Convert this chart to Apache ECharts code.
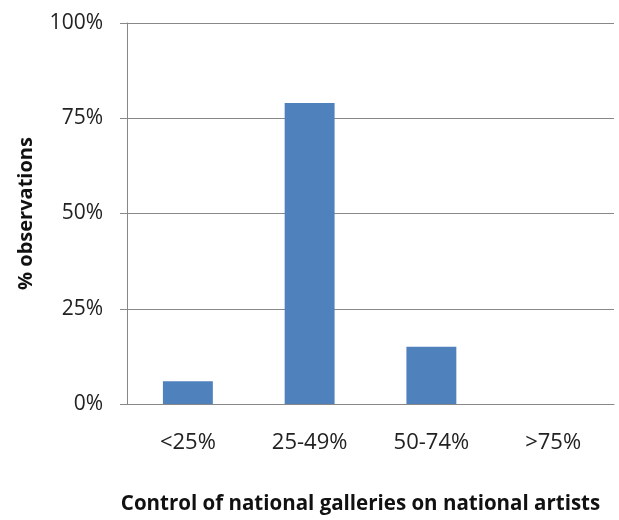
<!DOCTYPE html>
<html>
<head>
<meta charset="utf-8">
<script src="https://cdn.jsdelivr.net/npm/echarts@6/dist/echarts.min.js"></script>
<style>
  html, body { margin: 0; padding: 0; background: #fff; }
  #chart { width: 619px; height: 520px; }
</style>
</head>
<body>
<div id="chart"></div>
<script>
// categories and values
const categories = ['<25%', '25-49%', '50-74%', '>75%']
const observations = [6, 79, 15, 0]
const yTicks = [0, 25, 50, 75, 100]

const chart = echarts.init(document.getElementById('chart'))
chart.setOption({
  animation: false,
  textStyle: { fontFamily: 'Open Sans' },
  grid: { left: 127, right: 5, top: 23, bottom: 115 },
  xAxis: {
    type: 'category',
    data: categories,
    name: 'Control of national galleries on national artists',
    nameLocation: 'middle',
    nameGap: 90,
    nameTextStyle: { fontSize: 20.5, fontWeight: 'bold', color: '#111', padding: [0, 20, 0, 0] },
    axisLine: { lineStyle: { color: '#888' } },
    axisTick: { length: 7, lineStyle: { color: '#888' } },
    axisLabel: { fontSize: 22, color: '#222', margin: 28 }
  },
  yAxis: {
    type: 'value',
    min: yTicks[0],
    max: yTicks[yTicks.length - 1],
    interval: 25,
    name: '% observations',
    nameLocation: 'middle',
    nameGap: 91,
    nameTextStyle: { fontSize: 20, fontWeight: 'bold', color: '#111' },
    axisLine: { show: true, lineStyle: { color: '#888' } },
    axisTick: { show: true, length: 7, lineStyle: { color: '#888' } },
    splitLine: { lineStyle: { color: '#888' } },
    axisLabel: { fontSize: 21, color: '#222', margin: 24, formatter: '{value}%' }
  },
  series: [{
    type: 'bar',
    data: observations,
    barWidth: '41%',
    itemStyle: { color: '#4f81bd' }
  }]
})
</script>
</body>
</html>
